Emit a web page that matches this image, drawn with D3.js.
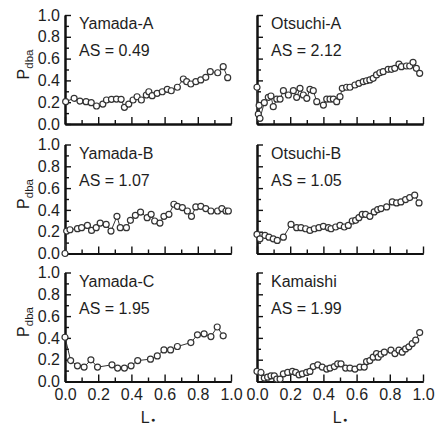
<!DOCTYPE html>
<html>
<head>
<meta charset="utf-8">
<script src="https://cdn.jsdelivr.net/npm/d3@7"></script>
<style>
  body { margin: 0; background: #fff; }
  svg text { font-family: "Liberation Sans", Arial, sans-serif; fill: #1e1e1e; }
</style>
</head>
<body>
<div id="chart"></div>
<script>
// values: [L*, Pdba]
var yamadaA = [[0.004,0.205],[0.055,0.236],[0.09,0.21],[0.127,0.205],[0.158,0.196],[0.19,0.165],[0.228,0.183],[0.25,0.22],[0.28,0.226],[0.31,0.229],[0.338,0.226],[0.358,0.153],[0.384,0.183],[0.41,0.22],[0.434,0.25],[0.46,0.22],[0.49,0.266],[0.505,0.296],[0.525,0.26],[0.555,0.281],[0.586,0.296],[0.616,0.318],[0.64,0.305],[0.677,0.337],[0.713,0.413],[0.733,0.388],[0.758,0.367],[0.788,0.388],[0.818,0.404],[0.848,0.428],[0.875,0.48],[0.92,0.47],[0.953,0.526],[0.98,0.425]];
var otsuchiA = [[0.0,0.337],[0.008,0.09],[0.013,0.17],[0.018,0.052],[0.044,0.196],[0.068,0.245],[0.084,0.257],[0.098,0.159],[0.119,0.229],[0.139,0.229],[0.159,0.306],[0.189,0.266],[0.219,0.306],[0.239,0.245],[0.259,0.327],[0.279,0.266],[0.3,0.236],[0.319,0.318],[0.339,0.306],[0.36,0.205],[0.4,0.174],[0.42,0.229],[0.44,0.229],[0.46,0.229],[0.48,0.205],[0.5,0.251],[0.514,0.327],[0.54,0.337],[0.56,0.337],[0.59,0.358],[0.614,0.373],[0.64,0.388],[0.66,0.397],[0.68,0.404],[0.7,0.419],[0.72,0.45],[0.74,0.47],[0.76,0.48],[0.79,0.502],[0.81,0.502],[0.83,0.511],[0.855,0.55],[0.87,0.526],[0.9,0.532],[0.92,0.532],[0.94,0.566],[0.96,0.511],[0.98,0.465]];
var yamadaB = [[0.0,0.0],[0.01,0.206],[0.03,0.218],[0.075,0.228],[0.1,0.237],[0.135,0.258],[0.16,0.212],[0.188,0.237],[0.212,0.279],[0.248,0.267],[0.277,0.206],[0.313,0.341],[0.333,0.237],[0.37,0.237],[0.394,0.304],[0.424,0.35],[0.455,0.38],[0.495,0.329],[0.519,0.359],[0.54,0.298],[0.572,0.279],[0.596,0.341],[0.626,0.359],[0.656,0.452],[0.677,0.433],[0.707,0.421],[0.737,0.39],[0.762,0.341],[0.788,0.427],[0.818,0.433],[0.848,0.412],[0.879,0.39],[0.919,0.39],[0.945,0.412],[0.97,0.39],[0.984,0.39]];
var otsuchiB = [[0.0,0.175],[0.018,0.135],[0.048,0.166],[0.072,0.15],[0.098,0.135],[0.122,0.12],[0.159,0.15],[0.205,0.267],[0.239,0.237],[0.265,0.237],[0.293,0.227],[0.319,0.212],[0.345,0.227],[0.373,0.237],[0.4,0.249],[0.43,0.237],[0.446,0.227],[0.474,0.243],[0.5,0.258],[0.526,0.243],[0.55,0.258],[0.574,0.298],[0.594,0.304],[0.614,0.329],[0.634,0.359],[0.654,0.359],[0.68,0.341],[0.706,0.381],[0.727,0.403],[0.747,0.412],[0.781,0.427],[0.815,0.473],[0.841,0.464],[0.867,0.473],[0.895,0.495],[0.92,0.513],[0.95,0.535],[0.976,0.464]];
var yamadaC = [[0.0,0.406],[0.034,0.192],[0.075,0.144],[0.115,0.132],[0.156,0.199],[0.196,0.132],[0.283,0.153],[0.317,0.123],[0.358,0.123],[0.398,0.144],[0.438,0.192],[0.515,0.205],[0.556,0.235],[0.596,0.29],[0.636,0.29],[0.677,0.321],[0.758,0.357],[0.798,0.428],[0.838,0.437],[0.879,0.412],[0.917,0.5],[0.953,0.419]];
var kamaishi = [[0.0,0.092],[0.024,0.083],[0.044,0.031],[0.064,0.04],[0.084,0.052],[0.104,0.052],[0.119,0.022],[0.139,0.022],[0.159,0.07],[0.185,0.083],[0.213,0.092],[0.233,0.083],[0.253,0.061],[0.273,0.07],[0.299,0.083],[0.319,0.092],[0.339,0.137],[0.366,0.153],[0.393,0.132],[0.42,0.114],[0.44,0.123],[0.466,0.137],[0.486,0.162],[0.506,0.162],[0.534,0.123],[0.56,0.123],[0.59,0.114],[0.62,0.132],[0.646,0.132],[0.66,0.183],[0.68,0.192],[0.7,0.223],[0.72,0.256],[0.73,0.223],[0.747,0.25],[0.767,0.269],[0.807,0.287],[0.831,0.256],[0.855,0.287],[0.875,0.269],[0.895,0.299],[0.915,0.318],[0.935,0.348],[0.956,0.379],[0.98,0.449]];

var sites = ["Yamada-A", "Otsuchi-A", "Yamada-B", "Otsuchi-B", "Yamada-C", "Kamaishi"];
var asValues = ["0.49", "2.12", "1.07", "1.05", "1.95", "1.99"];
var series = [yamadaA, otsuchiA, yamadaB, otsuchiB, yamadaC, kamaishi];
var majorTicks = [0, 0.2, 0.4, 0.6, 0.8, 1.0];
var minorTicks = [0.1, 0.3, 0.5, 0.7, 0.9];

var colLeft = [65, 257];
var rowTop = [15, 144.5, 272.5];
var pw = 166, ph = 109;

var svg = d3.select("#chart").append("svg")
  .attr("width", 439)
  .attr("height", 430);

var x = d3.scaleLinear().domain([0, 1]).range([0, pw]);
var y = d3.scaleLinear().domain([0, 1]).range([ph, 0]);
var line = d3.line().x(d => x(d[0])).y(d => y(d[1]));

series.forEach(function(data, i) {
  var col = i % 2, row = Math.floor(i / 2);
  var g = svg.append("g")
    .attr("transform", `translate(${colLeft[col]}, ${rowTop[row]})`);

  // minor ticks first, then major axis on top
  g.append("g")
    .attr("transform", `translate(0, ${ph})`)
    .call(d3.axisBottom(x).tickValues(minorTicks).tickSizeInner(-4).tickSizeOuter(0).tickFormat(""));
  g.append("g")
    .call(d3.axisLeft(y).tickValues(minorTicks).tickSizeInner(-4).tickSizeOuter(0).tickFormat(""));

  var xAxis = g.append("g")
    .attr("transform", `translate(0, ${ph})`)
    .call(d3.axisBottom(x).tickValues(majorTicks).tickSizeInner(-7).tickSizeOuter(0)
      .tickPadding(4).tickFormat(row == 2 ? d3.format(".1f") : ""));
  var yAxis = g.append("g")
    .call(d3.axisLeft(y).tickValues(majorTicks).tickSizeInner(-6).tickSizeOuter(0)
      .tickPadding(5).tickFormat(col == 0 ? d3.format(".1f") : ""));

  g.selectAll(".domain").attr("stroke", "#111").attr("stroke-width", 2);
  g.selectAll(".tick line").attr("stroke", "#111").attr("stroke-width", 1.4);
  g.selectAll(".tick text")
    .style("font-size", "16px")
    .attr("fill", "#1e1e1e");
  xAxis.selectAll(".tick text").attr("dy", "0.88em");

  // series
  g.append("path")
    .datum(data)
    .attr("fill", "none")
    .attr("stroke", "#333")
    .attr("stroke-width", 1)
    .attr("d", line);

  g.selectAll("circle")
    .data(data)
    .enter()
    .append("circle")
    .attr("cx", d => x(d[0]))
    .attr("cy", d => y(d[1]))
    .attr("r", 3)
    .attr("fill", "#fff")
    .attr("stroke", "#333")
    .attr("stroke-width", 1.2);

  g.append("text")
    .attr("x", 14)
    .attr("y", 14)
    .style("font-size", "16px")
    .text(sites[i]);
  g.append("text")
    .attr("x", 14)
    .attr("y", 41)
    .style("font-size", "16px")
    .text("AS = " + asValues[i]);

  if (col == 0) {
    var yl = g.append("text")
      .attr("transform", "rotate(-90)")
      .attr("x", -(ph / 2 - 5))
      .attr("y", 29 - colLeft[0])
      .attr("text-anchor", "middle");
    yl.append("tspan").style("font-size", "16px").text("P");
    yl.append("tspan").style("font-size", "11.5px").attr("dy", 4).text("dba");
  }

  if (row == 2) {
    var xl = g.append("text")
      .attr("x", pw / 2)
      .attr("y", ph + 41)
      .attr("text-anchor", "middle");
    xl.append("tspan").style("font-size", "16px").text("L");
    xl.append("tspan").style("font-size", "7px").attr("dx", 1.5).attr("dy", -1).text("●");
  }
});
</script>
</body>
</html>
